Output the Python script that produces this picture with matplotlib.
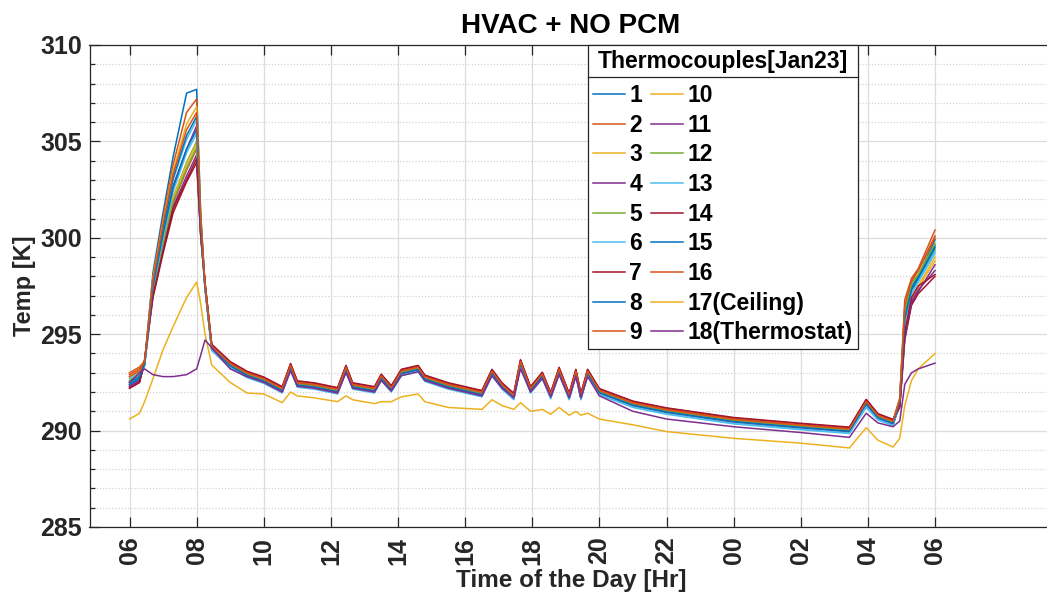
import matplotlib
matplotlib.use('Agg')
import matplotlib.pyplot as plt
from matplotlib.ticker import MultipleLocator, FixedLocator, FixedFormatter
from matplotlib.lines import Line2D

plt.rcParams['font.family'] = ['Liberation Sans', 'DejaVu Sans']

# sample times, hours from midnight of Jan 23 (06:00 -> 06:00 next day)
hours = [6.0, 6.3, 6.45, 6.7, 7.0, 7.3, 7.7, 8.0, 8.12, 8.25, 8.45, 9.0,
         9.5, 10.0, 10.55, 10.8, 11.0, 11.5, 12.2, 12.45, 12.65, 13.3, 13.5, 13.8,
         14.1, 14.6, 14.8, 15.5, 16.5, 16.8, 17.1, 17.45, 17.65, 17.95, 18.3, 18.55,
         18.8, 19.1, 19.3, 19.45, 19.65, 20.0, 21.0, 22.0, 24.0, 26.0, 27.45, 27.95,
         28.3, 28.75, 28.95, 29.1, 29.3, 29.5, 30.0]

tc1 = [292.4, 292.7, 293.5, 298.2, 301.3, 304.2, 307.5, 307.7, 301.3, 297.5, 294.3, 293.4,
       292.9, 292.6, 292.1, 293.3, 292.4, 292.3, 292.05, 293.2, 292.3, 292.1, 292.75, 292.15,
       293.0, 293.2, 292.7, 292.3, 291.9, 293.0, 292.3, 291.75, 293.5, 292.1, 292.85, 291.8,
       293.1, 291.75, 293.0, 291.75, 293.0, 292.0, 291.35, 291.0, 290.5, 290.2, 290.0, 291.4,
       290.7, 290.4, 291.5, 295.8, 297.4, 298.0, 299.9]
tc2 = [292.9, 293.2, 293.6, 298.0, 301.0, 303.8, 306.5, 307.2, 301.2, 297.6, 294.4, 293.5,
       293.0, 292.7, 292.2, 293.4, 292.5, 292.4, 292.15, 293.3, 292.4, 292.2, 292.85, 292.25,
       293.1, 293.3, 292.8, 292.4, 292.0, 293.1, 292.4, 291.85, 293.6, 292.2, 292.95, 291.9,
       293.2, 291.85, 293.1, 291.85, 293.1, 292.1, 291.45, 291.1, 290.6, 290.3, 290.1, 291.6,
       290.8, 290.5, 291.7, 296.8, 297.9, 298.4, 300.4]
tc3 = [292.6, 292.9, 293.45, 297.9, 300.8, 303.5, 305.9, 306.8, 301.0, 297.45, 294.25, 293.35,
       292.85, 292.55, 292.05, 293.25, 292.35, 292.25, 292.0, 293.15, 292.25, 292.05, 292.7, 292.1,
       292.95, 293.15, 292.65, 292.25, 291.85, 292.95, 292.25, 291.7, 293.45, 292.05, 292.8, 291.75,
       293.05, 291.7, 292.95, 291.7, 292.95, 291.95, 291.3, 290.95, 290.45, 290.15, 289.95, 291.35,
       290.65, 290.35, 291.4, 295.2, 296.9, 297.5, 299.0]
tc4 = [292.3, 292.6, 293.55, 297.6, 300.3, 302.7, 304.6, 305.8, 300.7, 297.55, 294.35, 293.45,
       292.95, 292.65, 292.15, 293.35, 292.45, 292.35, 292.1, 293.25, 292.35, 292.15, 292.8, 292.2,
       293.05, 293.25, 292.75, 292.35, 291.95, 293.05, 292.35, 291.8, 293.55, 292.15, 292.9, 291.85,
       293.15, 291.8, 293.05, 291.8, 293.05, 292.05, 291.4, 291.05, 290.55, 290.25, 290.05, 291.45,
       290.75, 290.45, 291.3, 294.9, 296.6, 297.2, 298.6]
tc5 = [292.5, 292.8, 293.4, 297.3, 299.8, 302.1, 303.9, 305.0, 300.4, 297.4, 294.2, 293.3,
       292.8, 292.5, 292.0, 293.2, 292.3, 292.2, 291.95, 293.1, 292.2, 292.0, 292.65, 292.05,
       292.9, 293.1, 292.6, 292.2, 291.8, 292.9, 292.2, 291.65, 293.4, 292.0, 292.75, 291.7,
       293.0, 291.65, 292.9, 291.65, 292.9, 291.9, 291.25, 290.9, 290.4, 290.1, 289.9, 291.3,
       290.6, 290.3, 291.6, 296.0, 297.3, 297.9, 299.4]
tc6 = [292.7, 293.0, 293.35, 297.7, 300.4, 303.0, 305.1, 306.1, 300.8, 297.35, 294.15, 293.25,
       292.75, 292.45, 291.95, 293.15, 292.25, 292.15, 291.9, 293.05, 292.15, 291.95, 292.6, 292.0,
       292.85, 293.05, 292.55, 292.15, 291.75, 292.85, 292.15, 291.6, 293.35, 291.95, 292.7, 291.65,
       292.95, 291.6, 292.85, 291.6, 292.85, 291.85, 291.2, 290.85, 290.35, 290.05, 289.85, 291.2,
       290.55, 290.25, 291.5, 295.6, 297.1, 297.7, 299.2]
tc7 = [292.2, 292.5, 293.65, 296.9, 299.2, 301.3, 302.9, 303.9, 300.1, 297.65, 294.45, 293.55,
       293.05, 292.75, 292.25, 293.45, 292.55, 292.45, 292.2, 293.35, 292.45, 292.25, 292.9, 292.3,
       293.15, 293.35, 292.85, 292.45, 292.05, 293.15, 292.45, 291.9, 293.65, 292.25, 293.0, 291.95,
       293.25, 291.9, 293.15, 291.9, 293.15, 292.15, 291.5, 291.15, 290.65, 290.35, 290.15, 291.6,
       290.85, 290.55, 291.2, 294.7, 296.5, 297.1, 298.0]
tc8 = [292.4, 292.7, 293.45, 297.7, 300.5, 303.1, 305.3, 306.3, 300.9, 297.45, 294.25, 293.35,
       292.85, 292.55, 292.05, 293.25, 292.35, 292.25, 292.0, 293.15, 292.25, 292.05, 292.7, 292.1,
       292.95, 293.15, 292.65, 292.25, 291.85, 292.95, 292.25, 291.7, 293.45, 292.05, 292.8, 291.75,
       293.05, 291.7, 292.95, 291.7, 292.95, 291.95, 291.3, 290.95, 290.45, 290.15, 289.95, 291.35,
       290.65, 290.35, 291.5, 295.9, 297.4, 298.0, 299.6]
tc9 = [293.0, 293.3, 293.6, 297.2, 299.6, 301.8, 303.5, 304.6, 300.3, 297.6, 294.4, 293.5,
       293.02, 292.72, 292.22, 293.42, 292.52, 292.42, 292.17, 293.32, 292.42, 292.22, 292.87, 292.27,
       293.12, 293.32, 292.82, 292.42, 292.02, 293.12, 292.42, 291.87, 293.62, 292.22, 292.97, 291.92,
       293.22, 291.87, 293.12, 291.87, 293.12, 292.12, 291.47, 291.12, 290.62, 290.32, 290.12, 291.55,
       290.82, 290.52, 291.6, 296.4, 297.7, 298.3, 300.1]
tc10 = [292.8, 293.1, 293.5, 297.3, 299.8, 302.1, 303.8, 304.9, 300.4, 297.5, 294.3, 293.4,
        292.9, 292.6, 292.1, 293.3, 292.4, 292.3, 292.05, 293.2, 292.3, 292.1, 292.75, 292.15,
        293.0, 293.2, 292.7, 292.3, 291.9, 293.0, 292.3, 291.75, 293.5, 292.1, 292.85, 291.8,
        293.1, 291.75, 293.0, 291.75, 293.0, 292.0, 291.35, 291.0, 290.5, 290.2, 290.0, 291.4,
        290.7, 290.4, 291.4, 295.0, 296.8, 297.4, 298.8]
tc11 = [292.3, 292.6, 293.4, 297.1, 299.4, 301.6, 303.2, 304.3, 300.2, 297.4, 294.2, 293.3,
        292.82, 292.52, 292.02, 293.22, 292.32, 292.22, 291.97, 293.12, 292.22, 292.02, 292.67, 292.07,
        292.92, 293.12, 292.62, 292.22, 291.82, 292.92, 292.22, 291.67, 293.42, 292.02, 292.77, 291.72,
        293.02, 291.67, 292.92, 291.67, 292.92, 291.92, 291.27, 290.92, 290.42, 290.12, 289.92, 291.3,
        290.62, 290.32, 291.3, 294.8, 296.7, 297.3, 298.3]
tc12 = [292.6, 292.9, 293.55, 297.2, 299.7, 301.9, 303.6, 304.7, 300.3, 297.55, 294.35, 293.45,
        292.95, 292.65, 292.15, 293.35, 292.45, 292.35, 292.1, 293.25, 292.35, 292.15, 292.8, 292.2,
        293.05, 293.25, 292.75, 292.35, 291.95, 293.05, 292.35, 291.8, 293.55, 292.15, 292.9, 291.85,
        293.15, 291.8, 293.05, 291.8, 293.05, 292.05, 291.4, 291.05, 290.55, 290.25, 290.05, 291.45,
        290.75, 290.45, 291.6, 296.2, 297.6, 298.1, 299.7]
tc13 = [292.5, 292.8, 293.38, 297.4, 300.0, 302.4, 304.4, 305.4, 300.6, 297.38, 294.18, 293.28,
        292.78, 292.48, 291.98, 293.18, 292.28, 292.18, 291.93, 293.08, 292.18, 291.98, 292.63, 292.03,
        292.88, 293.08, 292.58, 292.18, 291.78, 292.88, 292.18, 291.63, 293.38, 291.98, 292.73, 291.68,
        292.98, 291.63, 292.88, 291.63, 292.88, 291.88, 291.23, 290.88, 290.38, 290.08, 289.88, 291.25,
        290.58, 290.28, 291.5, 295.7, 297.2, 297.8, 299.3]
tc14 = [292.2, 292.5, 293.68, 297.0, 299.3, 301.5, 303.0, 304.1, 300.2, 297.68, 294.48, 293.58,
        293.08, 292.78, 292.28, 293.48, 292.58, 292.48, 292.23, 293.38, 292.48, 292.28, 292.93, 292.33,
        293.18, 293.38, 292.88, 292.48, 292.08, 293.18, 292.48, 291.93, 293.68, 292.28, 293.03, 291.98,
        293.28, 291.93, 293.18, 291.93, 293.18, 292.18, 291.53, 291.18, 290.68, 290.38, 290.18, 291.62,
        290.88, 290.58, 291.3, 295.1, 296.9, 297.5, 298.1]
tc15 = [292.5, 292.8, 293.47, 297.5, 300.2, 302.6, 304.6, 305.6, 300.7, 297.47, 294.27, 293.37,
        292.87, 292.57, 292.07, 293.27, 292.37, 292.27, 292.02, 293.17, 292.27, 292.07, 292.72, 292.12,
        292.97, 293.17, 292.67, 292.27, 291.87, 292.97, 292.27, 291.72, 293.47, 292.07, 292.82, 291.77,
        293.07, 291.72, 292.97, 291.72, 292.97, 291.97, 291.32, 290.97, 290.47, 290.17, 289.97, 291.4,
        290.67, 290.37, 291.5, 295.8, 297.3, 297.9, 299.5]
tc16 = [292.8, 293.1, 293.58, 297.8, 300.7, 303.3, 305.6, 306.5, 301.0, 297.58, 294.38, 293.48,
        292.98, 292.68, 292.18, 293.38, 292.48, 292.38, 292.13, 293.28, 292.38, 292.18, 292.83, 292.23,
        293.08, 293.28, 292.78, 292.38, 291.98, 293.08, 292.38, 291.83, 293.58, 292.18, 292.93, 291.88,
        293.18, 291.83, 293.08, 291.83, 293.08, 292.08, 291.43, 291.08, 290.58, 290.28, 290.08, 291.5,
        290.78, 290.48, 291.6, 296.5, 297.8, 298.3, 300.0]
tc17_ceiling = [290.6, 290.9, 291.5, 292.7, 294.2, 295.4, 296.9, 297.7, 296.6, 295.0, 293.4, 292.5,
                291.95, 291.9, 291.45, 292.0, 291.8, 291.7, 291.5, 291.8, 291.6, 291.4, 291.5, 291.5,
                291.75, 291.9, 291.5, 291.2, 291.1, 291.6, 291.3, 291.1, 291.45, 291.0, 291.1, 290.85,
                291.2, 290.8, 291.0, 290.8, 290.9, 290.6, 290.3, 289.95, 289.6, 289.35, 289.1, 290.15,
                289.5, 289.15, 289.6, 291.3, 292.6, 293.2, 294.0]
tc18_thermostat = [292.5, 293.0, 293.2, 292.9, 292.8, 292.8, 292.9, 293.2, 293.9, 294.7, 294.3, 293.2,
                   292.8, 292.5, 292.0, 293.1, 292.3, 292.2, 291.95, 293.0, 292.2, 292.0, 292.6, 292.05,
                   292.85, 293.05, 292.6, 292.2, 291.8, 292.85, 292.2, 291.7, 293.2, 292.0, 292.7, 291.75,
                   292.9, 291.7, 292.8, 291.7, 292.8, 291.8, 291.0, 290.6, 290.2, 289.9, 289.65, 290.9,
                   290.4, 290.2, 290.5, 292.4, 293.0, 293.2, 293.5]

series = [tc1, tc2, tc3, tc4, tc5, tc6, tc7, tc8, tc9, tc10, tc11, tc12, tc13, tc14, tc15,
          tc16, tc17_ceiling, tc18_thermostat]
labels = [str(i) for i in range(1, 17)] + ['17(Ceiling)', '18(Thermostat)']

tick_hours = [6, 8, 10, 12, 14, 16, 18, 20, 22, 24, 26, 28, 30]
tick_labels = ['06', '08', '10', '12', '14', '16', '18', '20', '22', '00', '02', '04', '06']

# MATLAB default line colour order
matlab_colors = ['#0072BD', '#D95319', '#EDB120', '#7E2F8E', '#77AC30', '#4DBEEE', '#A2142F']

W, H = 1047, 594
fig = plt.figure(figsize=(W / 100, H / 100), dpi=100)
ax = fig.add_axes([89.5 / W, 1 - 527 / H, (1052 - 89.5) / W, (527 - 45) / H])

for i, (y, lab) in enumerate(zip(series, labels)):
    ax.plot(hours, y, color=matlab_colors[i % 7], lw=1.1, label=lab)

px_per_h = (935 - 129.5) / 24
ax.set_xlim(6 - (129.5 - 89.5) / px_per_h, 30 + (1052 - 935) / px_per_h)
ax.set_ylim(285, 310)

ax.xaxis.set_major_locator(FixedLocator(tick_hours))
ax.xaxis.set_major_formatter(FixedFormatter(tick_labels))
ax.yaxis.set_major_locator(MultipleLocator(5))
ax.yaxis.set_minor_locator(MultipleLocator(1))

ax.set_axisbelow(True)
ax.grid(which='major', color='#dcdcdc', lw=0.9, ls='-')
ax.yaxis.grid(which='minor', color='#d4d4d4', lw=0.9, ls=(0, (1, 1.5)))

ax.tick_params(which='both', direction='in', top=True, right=False, color='#262626')
ax.tick_params(which='major', length=7, width=0.9)
ax.tick_params(which='minor', length=3.5, width=0.9)
ax.tick_params(axis='y', pad=5.5, labelsize=18)
ax.tick_params(axis='x', pad=7, labelsize=18, labelrotation=90)
for lbl in ax.get_xticklabels() + ax.get_yticklabels():
    lbl.set_fontweight('bold')
    lbl.set_color('#262626')

for sp in ax.spines.values():
    sp.set_color('#262626')
    sp.set_linewidth(0.9)
ax.spines['right'].set_visible(False)

ax.set_title('HVAC + NO PCM', fontsize=20, fontweight='bold', pad=8.5)
ax.set_xlabel('Time of the Day [Hr]', fontsize=17.5, fontweight='bold', labelpad=3,
              color='#262626')
ax.set_ylabel('Temp [K]', fontsize=17, fontweight='bold', labelpad=3, color='#262626')

leg_size = 16.5
leg = ax.legend(ncol=2, loc='upper left', bbox_to_anchor=(588 / W, 1 - 45 / H),
                bbox_transform=fig.transFigure, borderaxespad=0,
                title='Thermocouples[Jan23]',
                prop={'weight': 'bold', 'size': leg_size},
                title_fontproperties={'weight': 'bold', 'size': 16.5},
                handlelength=1.4, handletextpad=0.2, columnspacing=0.4,
                labelspacing=0.29, borderpad=0.2, fancybox=False, framealpha=1,
                edgecolor='#262626')
leg.get_frame().set_linewidth(0.9)
# extra room between the title and the entries
leg._legend_box.sep = 0.29 * leg_size + 3.5

# rule under the legend title
fig.canvas.draw()
r = fig.canvas.get_renderer()
tb = leg.get_title().get_window_extent(r)
fb = leg.get_frame().get_window_extent(r)
ysep = (tb.y0 - 4) / H
fig.add_artist(Line2D([fb.x0 / W, fb.x1 / W], [ysep, ysep], transform=fig.transFigure,
                      color='#262626', lw=0.9))

fig.savefig('out.png', dpi=100)
